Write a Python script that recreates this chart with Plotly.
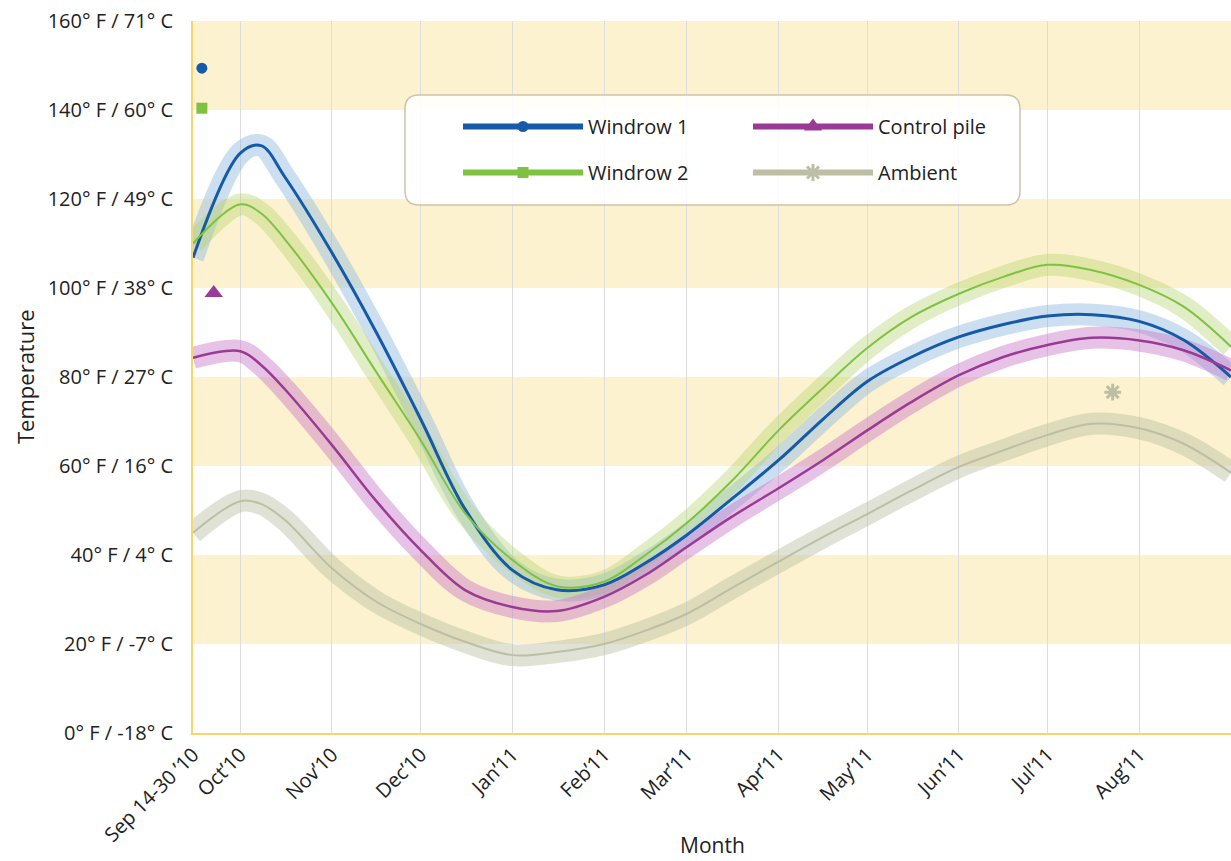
import plotly.graph_objects as go

# ---------------- data ----------------
dates = ["2010-09-15", "2010-10-01", "2010-10-08", "2010-10-16", "2010-11-01", "2010-11-16",
         "2010-12-01", "2010-12-16", "2011-01-01", "2011-01-16", "2011-02-01", "2011-02-15",
         "2011-03-01", "2011-03-16", "2011-04-01", "2011-04-16", "2011-05-01", "2011-05-16",
         "2011-06-01", "2011-06-16", "2011-07-01", "2011-07-16", "2011-08-01", "2011-08-16",
         "2011-09-01"]
windrow1 = [106.8, 130.3, 132.0, 125.0, 107.9, 90.0, 70.5, 50.3, 36.6, 32.2, 33.3, 38.2,
            44.5, 52.5, 61.3, 70.5, 79.0, 84.5, 89.0, 91.8, 93.7, 94.0, 92.5, 88.3, 80.0]
windrow2 = [110.0, 118.8, 116.8, 111.0, 96.6, 81.1, 65.8, 49.4, 38.9, 33.0, 34.0, 40.0,
            47.2, 56.5, 68.0, 77.5, 86.5, 93.5, 98.7, 102.5, 105.2, 104.0, 100.7, 95.8, 86.8]
control = [84.3, 85.8, 82.7, 77.3, 64.7, 52.1, 41.1, 32.1, 28.3, 27.4, 30.6, 35.5,
           41.8, 48.5, 55.0, 61.3, 68.0, 74.4, 80.4, 84.5, 87.2, 88.8, 88.2, 86.0, 81.5]
ambient = [45.0, 52.1, 51.5, 47.9, 37.0, 29.5, 24.5, 20.5, 17.5, 18.2, 20.0, 23.0,
           26.8, 32.5, 38.5, 44.0, 49.2, 54.5, 59.8, 63.5, 67.0, 69.5, 68.5, 65.0, 58.5]

# single marker points
marker_dates = {"Windrow 1": "2010-09-18", "Windrow 2": "2010-09-18",
                "Control pile": "2010-09-22", "Ambient": "2011-07-23"}
marker_vals = {"Windrow 1": 149.4, "Windrow 2": 140.4, "Control pile": 98.9, "Ambient": 76.6}

tick_dates = ["2010-09-15", "2010-10-01", "2010-11-01", "2010-12-01", "2011-01-01", "2011-02-01",
              "2011-03-01", "2011-04-01", "2011-05-01", "2011-06-01", "2011-07-01", "2011-08-01"]
tick_labels = ["Sep 14-30 \u201910", "Oct\u201910", "Nov\u201910", "Dec\u201910", "Jan\u201911",
               "Feb\u201911", "Mar\u201911", "Apr\u201911", "May\u201911", "Jun\u201911",
               "Jul\u201911", "Aug\u201911"]
y_ticks = [0, 20, 40, 60, 80, 100, 120, 140, 160]
y_labels = ["0\u00b0 F / -18\u00b0 C", "20\u00b0 F / -7\u00b0 C", "40\u00b0 F / 4\u00b0 C",
            "60\u00b0 F / 16\u00b0 C", "80\u00b0 F / 27\u00b0 C", "100\u00b0 F / 38\u00b0 C",
            "120\u00b0 F / 49\u00b0 C", "140\u00b0 F / 60\u00b0 C", "160\u00b0 F / 71\u00b0 C"]
band_ranges = [(20, 40), (60, 80), (100, 120), (140, 160)]

FONT = "Open Sans"

series = [
    # name, values, line color, band color, line width, symbol, marker size, legend
    ("Windrow 1", windrow1, "#145aa8", "rgba(140,185,225,0.45)", 3, "circle", 11, "legend"),
    ("Windrow 2", windrow2, "#7fc241", "rgba(180,212,110,0.40)", 2, "square", 11, "legend"),
    ("Control pile", control, "#9a3a95", "rgba(200,120,200,0.45)", 2.5, "triangle-up", 16, "legend2"),
    ("Ambient", ambient, "#bcbfa4", "rgba(185,190,160,0.45)", 2, "asterisk-open", 14, "legend2"),
]

fig = go.Figure()

for name, vals, lc, bc, lw, sym, ms, lg in series:
    fig.add_trace(go.Scatter(x=dates, y=vals, mode="lines",
                             line=dict(color=bc, width=22, shape="spline", smoothing=1.0),
                             legendgroup=name, showlegend=False, hoverinfo="skip"))
for name, vals, lc, bc, lw, sym, ms, lg in series:
    fig.add_trace(go.Scatter(x=dates, y=vals, mode="lines",
                             line=dict(color=lc, width=lw, shape="spline", smoothing=1.0),
                             legendgroup=name, showlegend=False, name=name))
for name, vals, lc, bc, lw, sym, ms, lg in series:
    mk = dict(symbol=sym, size=ms, color=lc)
    if sym == "asterisk-open":
        mk["line"] = dict(color=lc, width=3)
    fig.add_trace(go.Scatter(x=[marker_dates[name]], y=[marker_vals[name]], mode="lines+markers",
                             name=name, legendgroup=name, legend=lg,
                             line=dict(color=lc, width=6), marker=mk))

shapes = []
for y0, y1 in band_ranges:
    shapes.append(dict(type="rect", xref="paper", yref="y", x0=0, x1=1, y0=y0, y1=y1,
                       fillcolor="#fdf2cf", line=dict(width=0), layer="below"))

# rounded legend box (paper coords)
def rounded_box(x0, y0, x1, y1, rx, ry):
    return (f"M {x0+rx},{y0} L {x1-rx},{y0} Q {x1},{y0} {x1},{y0+ry} L {x1},{y1-ry} "
            f"Q {x1},{y1} {x1-rx},{y1} L {x0+rx},{y1} Q {x0},{y1} {x0},{y1-ry} "
            f"L {x0},{y0+ry} Q {x0},{y0} {x0+rx},{y0} Z")

L, T, B = 193, 21, 733
PW, PH = 1231.0 - L, float(B - T)
def px(x):
    return (x - L) / PW
def py(y):
    return (B - y) / PH

shapes.append(dict(type="path", xref="paper", yref="paper",
                   path=rounded_box(px(405), py(205), px(1020), py(95), 14 / PW, 14 / PH),
                   fillcolor="rgba(255,255,255,0.88)", line=dict(color="#cbc3ad", width=1.5), layer="above"))

legend_common = dict(bgcolor="rgba(0,0,0,0)", borderwidth=0, font=dict(family=FONT, size=20, color="#222"),
                     tracegroupgap=17, traceorder="grouped", itemwidth=120,
                     xanchor="left", yanchor="top", orientation="v")

fig.update_layout(
    width=1231, height=861,
    margin=dict(l=L, r=0, t=T, b=861 - B),
    plot_bgcolor="white", paper_bgcolor="white",
    font=dict(family=FONT, color="#222"),
    shapes=shapes,
    legend=dict(x=px(458), y=py(107), **legend_common),
    legend2=dict(x=px(748), y=py(107), **legend_common),
    xaxis=dict(type="date", range=["2010-09-15", "2011-09-01"], tickvals=tick_dates, ticktext=tick_labels,
               tickangle=-45, tickfont=dict(family=FONT, size=20, color="#222"),
               showgrid=True, gridcolor="#dddddd", gridwidth=1, automargin=False,
               showline=True, linecolor="#f6d66e", linewidth=2, ticks="",
               zeroline=False),
    yaxis=dict(range=[0, 160], tickvals=y_ticks, ticktext=y_labels,
               tickfont=dict(family=FONT, size=20, color="#222"), automargin=False,
               showgrid=False, showline=True, linecolor="#f6d66e", linewidth=2, ticks="",
               ticklabelstandoff=14, zeroline=False),
    annotations=[
        dict(text="Month", xref="paper", yref="paper", x=0.5, y=py(845), xanchor="center", yanchor="middle",
             showarrow=False, font=dict(family=FONT, size=21, color="#222")),
        dict(text="Temperature", xref="paper", yref="paper", x=px(25), y=py(377), xanchor="center",
             yanchor="middle", textangle=-90, showarrow=False, font=dict(family=FONT, size=22, color="#222")),
    ],
)

fig.write_html("out.html", config={"displayModeBar": False},
               post_script="document.body.style.margin='0px';")
